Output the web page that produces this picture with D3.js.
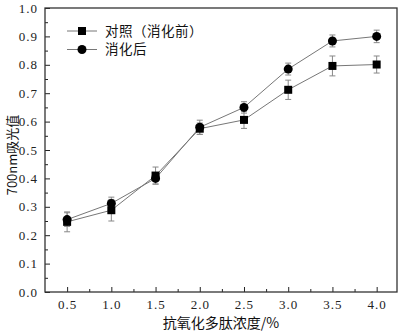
<!DOCTYPE html>
<html>
<head>
<meta charset="utf-8">
<script src="https://cdn.jsdelivr.net/npm/d3@7"></script>
<style>
  body { margin: 0; background: #fff; }
  svg { display: block; }
</style>
</head>
<body>
<div id="chart"></div>
<script>
const concentrations = [0.5, 1.0, 1.5, 2.0, 2.5, 3.0, 3.5, 4.0];
const controlValues = [0.247, 0.288, 0.410, 0.575, 0.606, 0.712, 0.796, 0.801];
const controlErrors = [0.035, 0.038, 0.030, 0.020, 0.030, 0.034, 0.035, 0.030];
const digestedValues = [0.255, 0.312, 0.400, 0.580, 0.650, 0.785, 0.884, 0.900];
const digestedErrors = [0.024, 0.022, 0.020, 0.025, 0.020, 0.021, 0.021, 0.022];
const seriesNames = ["对照（消化前）", "消化后"];
const xTicks = [0.5, 1.0, 1.5, 2.0, 2.5, 3.0, 3.5, 4.0];
const yTicks = [0, 0.1, 0.2, 0.3, 0.4, 0.5, 0.6, 0.7, 0.8, 0.9, 1.0];

const width = 401, height = 333;
const margin = {top: 8, right: 4, bottom: 41, left: 45};
const innerW = width - margin.left - margin.right;
const innerH = height - margin.top - margin.bottom;
const cjkFont = "'Noto Sans CJK SC', sans-serif";
const numFont = "'Liberation Serif', 'DejaVu Serif', serif";

const svg = d3.select("#chart").append("svg")
    .attr("width", width)
    .attr("height", height);

const g = svg.append("g")
    .attr("transform", `translate(${margin.left},${margin.top})`);

const x = d3.scaleLinear().domain([0.25, 4.23]).range([0, innerW]);
const y = d3.scaleLinear().domain([0, 1.0]).range([innerH, 0]);

// minor ticks
const xMinor = d3.range(0.75, 4.1, 0.5);
const yMinor = d3.range(0.05, 1.0, 0.1);

g.append("g")
    .attr("transform", `translate(0,${innerH})`)
    .call(d3.axisBottom(x).tickValues(xMinor).tickSize(-3).tickFormat(""))
    .call(a => a.select(".domain").remove())
    .selectAll("line").attr("stroke", "#222");

g.append("g")
    .call(d3.axisLeft(y).tickValues(yMinor).tickSize(-3).tickFormat(""))
    .call(a => a.select(".domain").remove())
    .selectAll("line").attr("stroke", "#222");

function styleAxis(a) {
    a.select(".domain").remove();
    a.selectAll("line").attr("stroke", "#222");
    a.selectAll("text")
        .attr("font-family", numFont)
        .attr("font-size", 13)
        .attr("letter-spacing", 1)
        .attr("fill", "#222");
}

const xAxis = g.append("g")
    .attr("transform", `translate(0,${innerH})`)
    .call(d3.axisBottom(x).tickValues(xTicks).tickSize(-5).tickPadding(8).tickFormat(d3.format(".1f")));
styleAxis(xAxis);

const yAxis = g.append("g")
    .call(d3.axisLeft(y).tickValues(yTicks).tickSize(-5).tickPadding(7).tickFormat(d3.format(".1f")));
styleAxis(yAxis);

// frame
g.append("rect")
    .attr("width", innerW)
    .attr("height", innerH)
    .attr("fill", "none")
    .attr("stroke", "#333")
    .attr("stroke-width", 1.3);

const series = [
    {name: seriesNames[0], values: controlValues, errors: controlErrors, shape: "square"},
    {name: seriesNames[1], values: digestedValues, errors: digestedErrors, shape: "circle"}
];

const line = d3.line()
    .x((d, i) => x(concentrations[i]))
    .y(d => y(d));

series.forEach(s => {
    g.append("path")
        .datum(s.values)
        .attr("fill", "none")
        .attr("stroke", "#777")
        .attr("stroke-width", 1)
        .attr("d", line);

    const eb = g.append("g").attr("stroke", "#888").attr("stroke-width", 1);
    s.values.forEach((v, i) => {
        const cx = x(concentrations[i]);
        const y0 = y(v - s.errors[i]), y1 = y(v + s.errors[i]);
        eb.append("line").attr("x1", cx).attr("x2", cx).attr("y1", y0).attr("y2", y1);
        eb.append("line").attr("x1", cx - 3).attr("x2", cx + 3).attr("y1", y0).attr("y2", y0);
        eb.append("line").attr("x1", cx - 3).attr("x2", cx + 3).attr("y1", y1).attr("y2", y1);
    });
});

function drawMarker(sel, shape, cx, cy) {
    if (shape === "square") {
        sel.append("rect").attr("x", cx - 4).attr("y", cy - 4)
            .attr("width", 8).attr("height", 8).attr("fill", "#000");
    } else {
        sel.append("circle").attr("cx", cx).attr("cy", cy).attr("r", 4.5).attr("fill", "#000");
    }
}

series.forEach(s => {
    const mg = g.append("g");
    s.values.forEach((v, i) => drawMarker(mg, s.shape, x(concentrations[i]), y(v)));
});

// legend
const legend = svg.append("g").attr("transform", "translate(67,31)");
series.forEach((s, i) => {
    const ly = i * 18.5;
    legend.append("line").attr("x1", 0).attr("x2", 30).attr("y1", ly).attr("y2", ly)
        .attr("stroke", "#777").attr("stroke-width", 1);
    drawMarker(legend, s.shape, 15, ly);
    legend.append("text")
        .attr("x", 38).attr("y", ly).attr("dy", "0.36em")
        .attr("font-family", cjkFont)
        .attr("font-size", 13.5)
        .attr("letter-spacing", 0.5)
        .attr("fill", "#111")
        .text(s.name);
});

// axis titles
svg.append("text")
    .attr("x", margin.left + innerW / 2)
    .attr("y", 323)
    .attr("dy", "0.36em")
    .attr("text-anchor", "middle")
    .attr("font-family", cjkFont)
    .attr("font-size", 14)
    .attr("fill", "#111")
    .text("抗氧化多肽浓度/%");

svg.append("text")
    .attr("transform", `translate(12,${margin.top + innerH / 2 + 5}) rotate(-90)`)
    .attr("text-anchor", "middle")
    .attr("dy", "0.35em")
    .attr("font-family", cjkFont)
    .attr("font-size", 13)
    .attr("fill", "#111")
    .text("700nm吸光值");
</script>
</body>
</html>
